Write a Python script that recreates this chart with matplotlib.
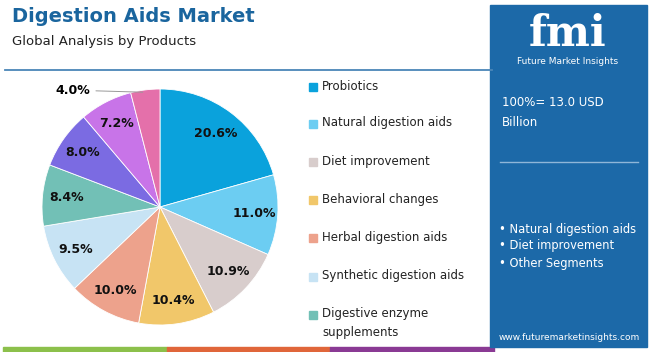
import matplotlib.pyplot as plt
import matplotlib.patches as mpatches
import matplotlib.lines as mlines
import numpy as np

# data
categories = ["Probiotics", "Natural digestion aids", "Diet improvement",
              "Behavioral changes", "Herbal digestion aids",
              "Synthetic digestion aids", "Digestive enzyme\nsupplements",
              "Segment 8", "Segment 9", "Segment 10"]
shares = [20.6, 11.0, 10.9, 10.4, 10.0, 9.5, 8.4, 8.0, 7.2, 4.0]
colors = ["#0aa2dc", "#6ccdf2", "#d8cdcc", "#f1c76a", "#eda28c",
          "#c7e3f4", "#72c0b6", "#7b6be2", "#c874e8", "#e470aa"]
legend_count = 7
panel_bullets = ["• Natural digestion aids", "• Diet improvement", "• Other Segments"]

W, H = 650, 352
fig = plt.figure(figsize=(6.5, 3.52), dpi=100)
fig.patch.set_facecolor("white")


def px(x, y):
    return x / W, 1 - y / H


# title block
fig.text(*px(12, 17), "Digestion Aids Market", fontsize=14, fontweight="bold",
         color="#1a659e", va="center", ha="left")
fig.text(*px(12, 41), "Global Analysis by Products", fontsize=9.5,
         color="#222222", va="center", ha="left")
fig.add_artist(mlines.Line2D([5 / W, 492 / W], [1 - 70 / H] * 2,
                             color="#4a86b8", lw=1.3))

# bottom strips
for x0, x1, c in [(3, 167, "#8cc04b"), (167, 330, "#e0663a"), (330, 494, "#8a3a94")]:
    fig.add_artist(mpatches.Rectangle((x0 / W, 0), (x1 - x0) / W, 5 / H,
                                      color=c, transform=fig.transFigure))

# pie
cx, cy, r = 160, 207, 118
ax = fig.add_axes([(cx - r) / W, (H - cy - r) / H, 2 * r / W, 2 * r / H])
wedges, _ = ax.pie(shares, colors=colors, startangle=90, counterclock=False,
                   wedgeprops=dict(linewidth=0.6, edgecolor="white"))
ax.set_xlim(-1, 1)
ax.set_ylim(-1, 1)
ax.set_aspect("equal")
ax.axis("off")

for w, v in zip(wedges, shares):
    ang = np.deg2rad((w.theta1 + w.theta2) / 2)
    if v < 5:
        ex, ey = np.cos(ang), np.sin(ang)
        ax.annotate(f"{v:.1f}%", xy=(ex * 0.98, ey * 0.98), xytext=(-0.59, 0.99),
                    fontsize=9, fontweight="bold", ha="right", va="center",
                    arrowprops=dict(arrowstyle="-", color="#999999", lw=0.7),
                    annotation_clip=False)
    else:
        rr = 0.78 if v > 15 else 0.8
        ax.text(rr * np.cos(ang), rr * np.sin(ang), f"{v:.1f}%", fontsize=9,
                fontweight="bold", ha="center", va="center", color="#111111")

# legend
ly = [87, 124, 162, 200, 238, 277, 315]
for i in range(legend_count):
    x, y = px(309, ly[i])
    fig.add_artist(mpatches.Rectangle((x, y - 4 / H), 8 / W, 8 / H,
                                      color=colors[i], transform=fig.transFigure))
    two = "\n" in categories[i]
    fig.text(*px(322, ly[i] - (8 if two else 1)), categories[i], fontsize=8.5,
             color="#222222", va="top" if two else "center", ha="left",
             linespacing=1.6)

# right panel
fig.add_artist(mpatches.Rectangle((490 / W, 5 / H), 157 / W, 342 / H,
                                  color="#1c69a8", transform=fig.transFigure))
fig.text(*px(568, 34), "fmi", fontsize=30, fontweight="bold", family="DejaVu Serif",
         color="white", ha="center", va="center")
fig.text(*px(568, 62), "Future Market Insights", fontsize=6.5, color="white",
         ha="center", va="center")
fig.text(*px(502, 103), "100%= 13.0 USD", fontsize=8.5, color="white",
         ha="left", va="center")
fig.text(*px(502, 122), "Billion", fontsize=8.5, color="white", ha="left", va="center")
fig.add_artist(mlines.Line2D([500 / W, 638 / W], [1 - 162 / H] * 2,
                             color="#8fb6d8", lw=1))
for i, b in enumerate(panel_bullets):
    fig.text(*px(499, 229 + 17 * i), b, fontsize=8.3, color="white",
             ha="left", va="center")
fig.text(*px(569, 337), "www.futuremarketinsights.com", fontsize=6.5,
         color="white", ha="center", va="center")

fig.savefig("out.png", dpi=100)
